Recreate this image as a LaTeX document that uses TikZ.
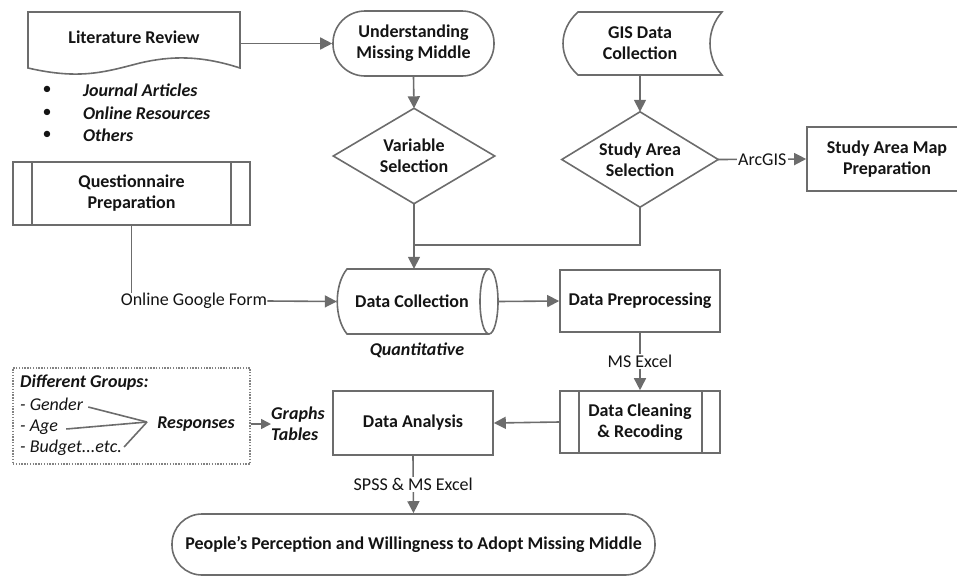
\documentclass[tikz,border=0pt]{standalone}
\usepackage{fontspec}
\setmainfont{Carlito}
\usetikzlibrary{arrows.meta,calc}
\definecolor{ln}{RGB}{108,108,108}
\definecolor{tx}{RGB}{20,20,20}
\newcommand\myfs{\fontsize{18}{21}\selectfont}
\begin{document}
\begin{tikzpicture}[x=1pt,y=-1pt,
  every node/.style={text=tx, font=\myfs, inner sep=0pt, align=center},
  fbold/.style={font=\myfs\bfseries},
  freg/.style={font=\myfs},
  fbi/.style={font=\myfs\bfseries\itshape},
  fit/.style={font=\myfs\itshape},
  shp/.style={draw=ln, line width=1.6pt},
  con/.style={draw=ln, line width=1.6pt},
  arr/.style={con, -{Triangle[length=12pt,width=12pt]}},
  sarr/.style={con, -{Triangle[length=10pt,width=10pt]}},
  lab/.style={freg, fill=white, inner sep=1.2pt}
]
\useasboundingbox (0,0) rectangle (957,576);

% Literature Review (document shape)
\node[fbold, minimum width=212pt, minimum height=50pt] (lit) at (134,37) {Literature Review};
\draw[shp] (28,12) -- (240,12) -- (240,68) .. controls (200,55) and (170,56) .. (140,63)
  .. controls (105,72) and (80,80) .. (28,68) -- cycle;

% bullet list
\node (b1) at (47,90) {\textbullet};
\node (b2) at (47,113) {\textbullet};
\node (b3) at (47,135) {\textbullet};
\node[fbi, anchor=west] (j1) at (83,90) {Journal Articles};
\node[fbi, anchor=west] (j2) at (83,113) {Online Resources};
\node[fbi, anchor=west] (j3) at (83,135) {Others};

% Understanding Missing Middle
\node[fbold, shp, rounded corners=32pt, minimum width=161pt, minimum height=65pt] (umm) at (413.5,43.5) {Understanding\\Missing Middle};
\draw[arr] (lit.east |- umm.west) -- (umm.west);

% Variable Selection
\node[fbold, minimum width=161pt, minimum height=95pt] (var) at (414,156) {Variable\\Selection};
\draw[shp] (var.north) -- (var.east) -- (var.south) -- (var.west) -- cycle;
\draw[arr] (umm.south) -- (var.north);

% GIS Data Collection (stored data)
\node[fbold, minimum width=160pt, minimum height=63pt] (gis) at (640,43.5) {GIS Data\\Collection};
\draw[shp] (578,12) -- (722,12) .. controls (706,30) and (706,57) .. (722,75) -- (578,75)
  .. controls (558,57) and (558,30) .. (578,12) -- cycle;

% Study Area Selection
\node[fbold, minimum width=156pt, minimum height=95pt] (sas) at (640,159.5) {Study Area\\Selection};
\draw[shp] (sas.north) -- (sas.east) -- (sas.south) -- (sas.west) -- cycle;
\draw[arr] (gis.south) -- (sas.north);

% Study Area Map Preparation
\node[fbold, shp, minimum width=160pt, minimum height=64pt] (smp) at (887,159) {Study Area Map\\Preparation};
\draw[arr] (sas.east) -- node[lab] (arc) {ArcGIS} (smp.west);

% Questionnaire Preparation
\node[fbold, shp, minimum width=237pt, minimum height=63pt] (qp) at (131.5,193.5) {Questionnaire\\Preparation};
\draw[shp] ([xshift=20pt]qp.north west) -- ([xshift=20pt]qp.south west);
\draw[shp] ([xshift=-20pt]qp.north east) -- ([xshift=-20pt]qp.south east);

% Data Collection (horizontal cylinder)
\node[fbold, minimum width=161pt, minimum height=65pt] (dc) at (417.5,301.5) {Data Collection\hspace*{11pt}};
\draw[shp] (489,269) -- (347,269) .. controls (334,285) and (334,318) .. (347,334) -- (489,334);
\draw[shp] (489,301.5) ellipse [x radius=9pt, y radius=32.5pt];
\node[fbi] (qt) at (417,350) {Quantitative};

% join from selections
\coordinate (j) at (414,245);
\draw[con] (sas.south) |- (j);
\draw[arr] (var.south) -- (var.south |- dc.north);

% Online Google Form
\node[freg] (ogf) at (194,301) {Online Google Form};
\draw[con] (qp.south) -- (qp.south |- ogf.north);
\draw[arr] (ogf.east) -- (dc.west);

% Data Preprocessing
\node[fbold, shp, minimum width=160pt, minimum height=62pt] (dp) at (640,301) {Data Preprocessing};
\draw[arr] (dc.east) -- (dp.west);

% Data Cleaning & Recoding
\node[fbold, shp, minimum width=160pt, minimum height=62pt] (dcr) at (640,422) {Data Cleaning\\\& Recoding};
\draw[shp] ([xshift=20pt]dcr.north west) -- ([xshift=20pt]dcr.south west);
\draw[shp] ([xshift=-19pt]dcr.north east) -- ([xshift=-19pt]dcr.south east);
\draw[arr] (dp.south) -- node[lab] (mse) {MS Excel} (dcr.north);

% Data Analysis
\node[fbold, shp, minimum width=160pt, minimum height=64pt] (da) at (413,423) {Data Analysis};
\draw[arr] (dcr.west) -- (da.east);

% Final outcome
\node[fbold, shp, rounded corners=30pt, minimum width=483pt, minimum height=61pt] (fin) at (413.5,544.5) {People’s Perception and Willingness to Adopt Missing Middle};
\draw[arr] (da.south) -- node[lab] (spss) {SPSS \& MS Excel} (fin.north);

% Different groups box
\node[draw=ln!85, line width=1.1pt, dash pattern=on 1.4pt off 1.4pt, minimum width=237pt, minimum height=96pt] (grp) at (131.5,416) {};
\node[fbi, anchor=west] (dg) at (20,383) {Different Groups:};
\node[fit, anchor=west] (gen) at (20,404) {- Gender};
\node[fit, anchor=west] (age) at (20,427) {- Age};
\node[fit, anchor=west] (bud) at (20,448) {- Budget...etc.};
\node[fbi] (resp) at (196,424) {Responses};
\coordinate (cv) at (147,422);
\draw[con] ($(gen.east)+(5,3)$) -- (cv);
\draw[con] ($(age.east)+(8,2)$) -- (cv);
\draw[con] ($(bud.east)+(2,-1)$) -- (cv);

% Graphs / Tables
\node[fbi, anchor=west, align=left] (gt) at (271,424) {Graphs\\Tables};
\draw[sarr] (grp.east |- gt.west) -- (gt.west);
\end{tikzpicture}
\end{document}
